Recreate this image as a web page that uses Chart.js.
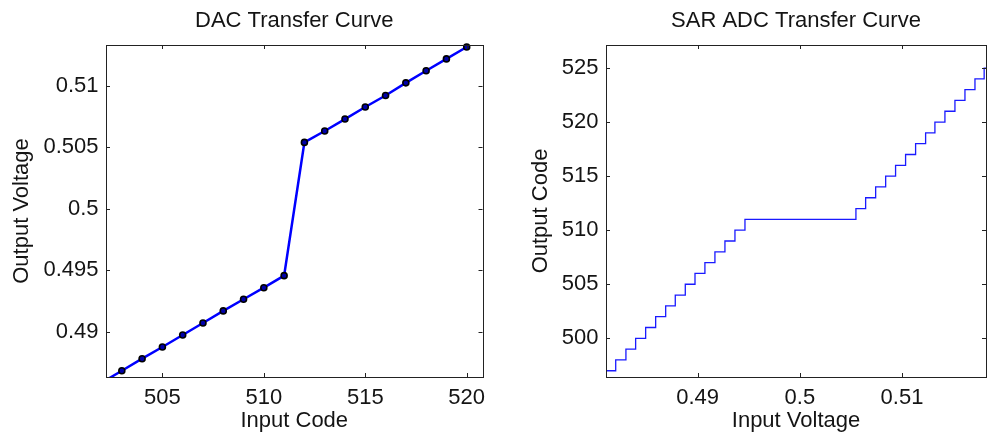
<!DOCTYPE html>
<html>
<head>
<meta charset="utf-8">
<script src="https://cdn.jsdelivr.net/npm/chart.js@4.4.1/dist/chart.umd.min.js"></script>
<style>
  html, body { margin: 0; padding: 0; background: #fff; }
  #wrap { position: relative; width: 987px; height: 436px; overflow: hidden; }
  .box { position: absolute; top: 0; height: 436px; }
</style>
</head>
<body>
<div id="wrap">
  <div class="box" style="left:0;width:493px"><canvas id="dacChart"></canvas></div>
  <div class="box" style="left:493px;width:494px"><canvas id="adcChart"></canvas></div>
</div>
<script>
/* ===== DATA ===== */

// DAC: input code -> output voltage
const dacCodes = [502, 503, 504, 505, 506, 507, 508, 509, 510, 511,
                  512, 513, 514, 515, 516, 517, 518, 519, 520];
const dacVoltage = [0.48584, 0.48682, 0.48780, 0.48875, 0.48973, 0.49071, 0.49169, 0.49264, 0.49358, 0.49456,
                    0.50541, 0.50634, 0.50731, 0.50829, 0.50923, 0.51026, 0.51124, 0.51221, 0.51318];
const dacXTicks = [505, 510, 515, 520];
const dacYTicks = [0.49, 0.495, 0.5, 0.505, 0.51];

// SAR ADC: input voltage where each output code starts
const adcVoltage = [0.48002, 0.48100, 0.48198, 0.48298, 0.48393, 0.48491, 0.48589, 0.48687, 0.48781, 0.48879,
                    0.48974, 0.49071, 0.49169, 0.49267, 0.49365, 0.49463, 0.50549, 0.50644, 0.50742, 0.50840,
                    0.50937, 0.51035, 0.51133, 0.51231, 0.51322, 0.51420, 0.51518, 0.51616, 0.51714, 0.51804,
                    0.51902];
const adcCodes = [496, 497, 498, 499, 500, 501, 502, 503, 504, 505,
                  506, 507, 508, 509, 510, 511, 512, 513, 514, 515,
                  516, 517, 518, 519, 520, 521, 522, 523, 524, 525,
                  526];
const adcXTicks = [0.49, 0.5, 0.51];
const adcYTicks = [500, 505, 510, 515, 520, 525];

/* ===== COMMON STYLE ===== */

const FONT = "'Liberation Sans', Arial, Helvetica, sans-serif";
const TEXT = "#141414";
const FS = 22;
Chart.defaults.font.family = FONT;
Chart.defaults.font.size = FS;
Chart.defaults.color = TEXT;

// MATLAB-ish frame with inward ticks on all four sides
const framePlugin = {
  id: "frame",
  afterDraw(chart) {
    const { ctx, chartArea: a, scales } = chart;
    const len = 4;
    ctx.save();
    ctx.strokeStyle = "#222";
    ctx.lineWidth = 1;
    ctx.beginPath();
    scales.x.ticks.forEach(t => {
      const px = Math.round(scales.x.getPixelForValue(t.value)) + 0.5;
      ctx.moveTo(px, a.bottom); ctx.lineTo(px, a.bottom - len);
      ctx.moveTo(px, a.top); ctx.lineTo(px, a.top + len);
    });
    scales.y.ticks.forEach(t => {
      const py = Math.round(scales.y.getPixelForValue(t.value)) + 0.5;
      ctx.moveTo(a.left, py); ctx.lineTo(a.left + len, py);
      ctx.moveTo(a.right, py); ctx.lineTo(a.right - len, py);
    });
    ctx.stroke();
    ctx.strokeRect(Math.round(a.left) + 0.5, Math.round(a.top) + 0.5,
                   Math.round(a.right - a.left), Math.round(a.bottom - a.top));
    ctx.restore();
  },
};

function makeScale(min, max, tickValues, width, height, title, titlePad) {
  return {
    type: "linear",
    min, max,
    grid: { display: false, drawTicks: false },
    border: { display: false },
    afterBuildTicks(scale) {
      scale.ticks = tickValues.map(v => ({ value: v }));
    },
    afterFit(scale) {
      if (width != null) scale.width = width;
      if (height != null) scale.height = height;
    },
    ticks: {
      padding: 7.5,
      color: TEXT,
      font: { size: FS },
      callback: v => String(v),
    },
    title: {
      display: true,
      text: title,
      color: TEXT,
      font: { size: FS },
      padding: titlePad,
    },
  };
}

function titleOpts(text) {
  return {
    display: true,
    text,
    fullSize: false,
    color: TEXT,
    font: { size: FS, weight: "normal" },
    padding: { top: 7.5, bottom: 11.1 },
  };
}

/* ===== DAC TRANSFER CURVE ===== */

new Chart(document.getElementById("dacChart"), {
  type: "line",
  data: {
    datasets: [{
      data: dacCodes.map((c, i) => ({ x: c, y: dacVoltage[i] })),
      borderColor: "#0000ff",
      borderWidth: 2.5,
      pointRadius: 3,
      pointBorderWidth: 1.6,
      pointBorderColor: "#000",
      pointBackgroundColor: "#0000aa",
      tension: 0,
      clip: { left: 0, bottom: 0, top: 5, right: 5 },
    }],
  },
  options: {
    responsive: true,
    maintainAspectRatio: false,
    animation: false,
    layout: { padding: { left: 0, right: 7, top: 0, bottom: 0 } },
    plugins: {
      legend: { display: false },
      tooltip: { enabled: false },
      title: titleOpts("DAC Transfer Curve"),
    },
    scales: {
      x: makeScale(502.22, 520.78, dacXTicks, null, 59, "Input Code", { top: 0, bottom: 1.8 }),
      y: makeScale(0.48631, 0.51334, dacYTicks, 106, null, "Output Voltage", { top: 8.3, bottom: 0 }),
    },
  },
  plugins: [framePlugin],
});

/* ===== SAR ADC TRANSFER CURVE ===== */

new Chart(document.getElementById("adcChart"), {
  type: "line",
  data: {
    datasets: [{
      data: adcVoltage.map((v, i) => ({ x: v, y: adcCodes[i] })),
      borderColor: "#1a1aff",
      borderWidth: 1.3,
      pointRadius: 0,
      stepped: true,
      clip: 0,
    }],
  },
  options: {
    responsive: true,
    maintainAspectRatio: false,
    animation: false,
    layout: { padding: { left: 0, right: 1, top: 0, bottom: 0 } },
    plugins: {
      legend: { display: false },
      tooltip: { enabled: false },
      title: titleOpts("SAR ADC Transfer Curve"),
    },
    scales: {
      x: makeScale(0.48103, 0.51822, adcXTicks, null, 59, "Input Voltage", { top: 0, bottom: 1.8 }),
      y: makeScale(496.42, 527.13, adcYTicks, 113, null, "Output Code", { top: 34.8, bottom: 0 }),
    },
  },
  plugins: [framePlugin],
});
</script>
</body>
</html>
